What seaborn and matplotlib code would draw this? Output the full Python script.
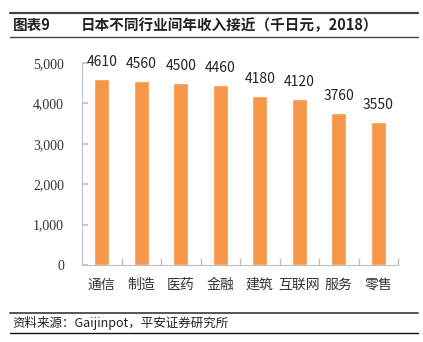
import matplotlib
matplotlib.use("Agg")
import matplotlib.pyplot as plt
import seaborn as sns
import pandas as pd
from matplotlib.lines import Line2D
from matplotlib.ticker import FuncFormatter, FixedLocator

categories = ["通信", "制造", "医药", "金融", "建筑", "互联网", "服务", "零售"]
values = [4610, 4560, 4500, 4460, 4180, 4120, 3760, 3550]
yticks = [0, 1000, 2000, 3000, 4000, 5000]

sns.set_theme(style="white")
plt.rcParams['font.family'] = ['Noto Sans CJK SC', 'DejaVu Sans']

df = pd.DataFrame({"cat": categories, "val": values})

fig = plt.figure(figsize=(4.23, 3.42), dpi=100)
ax = fig.add_axes([0.194, 0.225, 0.747, 0.591])
sns.barplot(data=df, x="cat", y="val", color="#F79646", saturation=1, width=0.38, ax=ax)

ax.set_ylim(0, 5000)
ax.set_xlim(-0.5, len(categories) - 0.5)
ax.set_yticks(yticks)
ax.yaxis.set_major_formatter(FuncFormatter(lambda v, p: f"{int(v):,}"))
for lbl in ax.get_yticklabels():
    lbl.set_family(["Liberation Serif", "DejaVu Serif"])
ax.set_xlabel("")
ax.set_ylabel("")

for s in ["top", "right"]:
    ax.spines[s].set_visible(False)
for s in ["left", "bottom"]:
    ax.spines[s].set_color("#BFBFBF")
    ax.spines[s].set_linewidth(0.8)

ax.tick_params(axis="y", direction="in", length=4, color="#BFBFBF", left=True, labelsize=10, pad=13, labelcolor="#333333")
ax.tick_params(axis="x", bottom=False, labelsize=10, pad=3, labelcolor="#333333")
ax.xaxis.set_minor_locator(FixedLocator([i + 0.5 for i in range(len(categories))]))
ax.tick_params(axis="x", which="minor", direction="in", length=5, color="#BFBFBF", bottom=True)

for c in ax.containers:
    ax.bar_label(c, labels=[str(v) for v in values], padding=7, fontsize=10, color="#222222")

# header
fig.add_artist(Line2D([0.024, 0.988], [1 - 13/342, 1 - 13/342], color="#444444", lw=1.6))
fig.add_artist(Line2D([0.024, 0.988], [1 - 37/342, 1 - 37/342], color="#444444", lw=1.0))
fig.text(0.030, 1 - 25/342, "图表9", fontsize=10.5, fontweight="bold", va="center", ha="left", color="#222222")
fig.text(0.190, 1 - 25/342, "日本不同行业间年收入接近（千日元，2018）", fontsize=10.5, fontweight="bold",
         va="center", ha="left", color="#222222")

# footer
fig.add_artist(Line2D([0.024, 0.988], [1 - 313/342, 1 - 313/342], color="#555555", lw=1.4))
fig.text(0.030, 1 - 323/342, "资料来源：Gaijinpot，平安证券研究所", fontsize=9, style="italic",
         va="center", ha="left", color="#222222")
fig.add_artist(Line2D([0.024, 0.988], [1 - 333/342, 1 - 333/342], color="#111111", lw=1.0))

fig.savefig("out.png", dpi=100)
